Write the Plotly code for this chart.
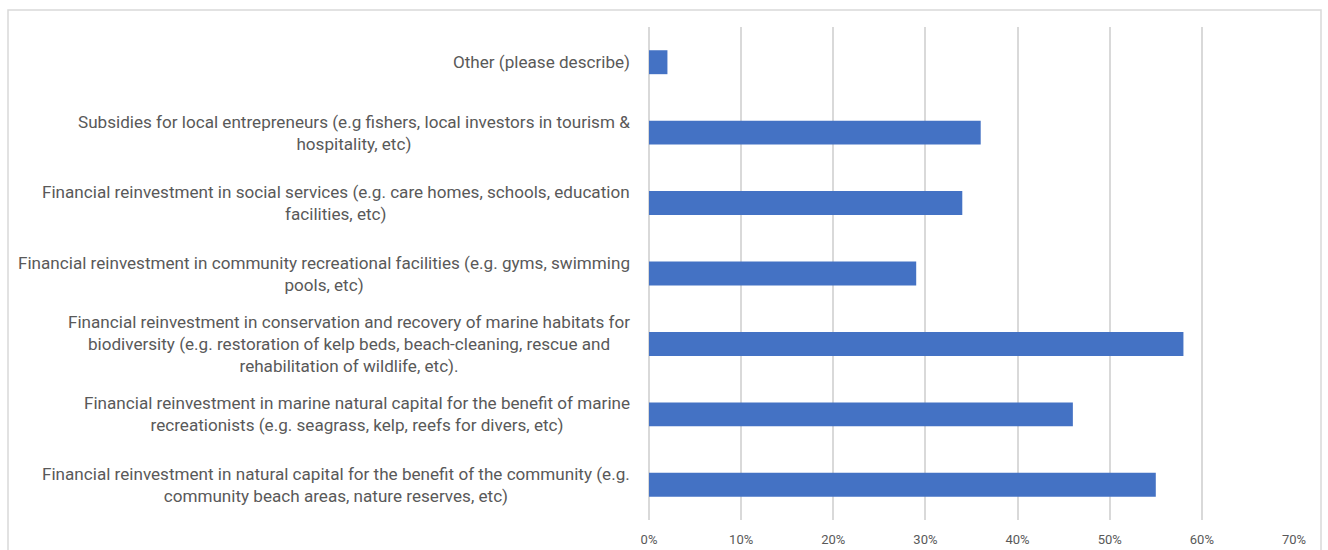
import plotly.graph_objects as go

# Survey responses: share of respondents choosing each use of funds (top to bottom)
categories = [
    "Other (please describe)",
    "Subsidies for local entrepreneurs (e.g fishers, local investors in tourism &<br>hospitality, etc)",
    "Financial reinvestment in social services (e.g. care homes, schools, education<br>facilities, etc)",
    "Financial reinvestment in community recreational facilities (e.g. gyms, swimming<br>pools, etc)",
    "Financial reinvestment in conservation and recovery of marine habitats for<br>biodiversity (e.g. restoration of kelp beds, beach-cleaning, rescue and<br>rehabilitation of wildlife, etc).",
    "Financial reinvestment in marine natural capital for the benefit of marine<br>recreationists (e.g. seagrass, kelp, reefs for divers, etc)",
    "Financial reinvestment in natural capital for the benefit of the community (e.g.<br>community beach areas, nature reserves, etc)",
]
values = [2, 36, 34, 29, 58, 46, 55]
tick_values = [0, 10, 20, 30, 40, 50, 60, 70]
tick_labels = ["0%", "10%", "20%", "30%", "40%", "50%", "60%", "70%"]

W, H = 1328, 550
ML, MR, MT, MB = 649, 34, 27, 30

text_grey = "#595959"
grid_grey = "#D9D9D9"

fig = go.Figure(
    go.Bar(
        x=values,
        y=categories,
        orientation="h",
        marker=dict(color="#4472C4", line=dict(width=0)),
        hoverinfo="x+y",
    )
)

# Category labels as centred multi-line text, right-aligned against the axis
for cat in categories:
    fig.add_annotation(
        x=0, xref="paper", xanchor="right", xshift=-17,
        y=cat, yref="y", yanchor="middle",
        text=cat, align="center", showarrow=False,
        font=dict(family="Roboto", size=17.1, color=text_grey),
    )

# Light chart-area frame
pw, ph = W - ML - MR, H - MT - MB
fig.add_shape(
    type="rect", xref="paper", yref="paper",
    x0=(8 - ML) / pw, x1=(1321 - ML) / pw,
    y0=-(MB + 20) / ph, y1=(H - 10 - MB) / ph,
    line=dict(color=grid_grey, width=1.5), fillcolor="rgba(0,0,0,0)", layer="below",
)

fig.update_layout(
    width=W, height=H,
    margin=dict(l=ML, r=MR, t=MT, b=MB, autoexpand=False),
    paper_bgcolor="white", plot_bgcolor="white",
    bargap=0.66,
    showlegend=False,
    xaxis=dict(
        range=[0, 70],
        tickvals=tick_values, ticktext=tick_labels,
        showgrid=True, gridcolor=grid_grey, gridwidth=1.5,
        zeroline=True, zerolinecolor=grid_grey, zerolinewidth=1.5,
        showline=False, ticks="",
        ticklabelstandoff=10,
        automargin=False,
        tickfont=dict(family="Roboto", size=13, color=text_grey),
        fixedrange=True,
    ),
    yaxis=dict(
        autorange="reversed",
        showticklabels=False, showgrid=False, zeroline=False, showline=False,
        ticks="", fixedrange=True, automargin=False,
    ),
)

fig.write_html("out.html")
